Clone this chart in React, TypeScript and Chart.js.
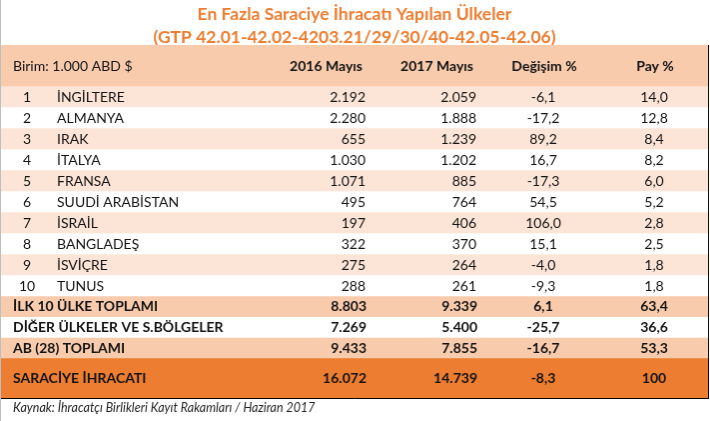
import React, { useEffect, useRef } from "react";
import { Chart, registerables } from "chart.js";

Chart.register(...registerables);

// ---------- data ----------
const titleLines = [
  "En Fazla Saraciye İhracatı Yapılan Ülkeler",
  "(GTP 42.01-42.02-4203.21/29/30/40-42.05-42.06)",
];
const unitLabel = "Birim: 1.000 ABD $";
const columnHeaders = ["2016 Mayıs", "2017 Mayıs", "Değişim %", "Pay %"];
const ranks = ["1", "2", "3", "4", "5", "6", "7", "8", "9", "10"];
const countries = [
  "İNGİLTERE",
  "ALMANYA",
  "IRAK",
  "İTALYA",
  "FRANSA",
  "SUUDİ ARABİSTAN",
  "İSRAİL",
  "BANGLADEŞ",
  "İSVİÇRE",
  "TUNUS",
];
const may2016 = [2192, 2280, 655, 1030, 1071, 495, 197, 322, 275, 288];
const may2017 = [2059, 1888, 1239, 1202, 885, 764, 406, 370, 264, 261];
const changePct = [-6.1, -17.2, 89.2, 16.7, -17.3, 54.5, 106.0, 15.1, -4.0, -9.3];
const sharePct = [14.0, 12.8, 8.4, 8.2, 6.0, 5.2, 2.8, 2.5, 1.8, 1.8];
const summaryLabels = [
  "İLK 10 ÜLKE TOPLAMI",
  "DİĞER ÜLKELER VE S.BÖLGELER",
  "AB (28) TOPLAMI",
  "SARACİYE İHRACATI",
];
const summary2016 = [8803, 7269, 9433, 16072];
const summary2017 = [9339, 5400, 7855, 14739];
const summaryChange = [6.1, -25.7, -16.7, -8.3];
const summaryShare = [63.4, 36.6, 53.3, 100];
const sourceNote = "Kaynak: İhracatçı Birlikleri Kayıt Rakamları / Haziran 2017";

// ---------- layout / style ----------
const ORANGE = "#ED7D31";
const PEACH = "#F8CBAD";
const LIGHT = "#FCE4D6";
const WHITE = "#FFFFFF";
const FONT = "Lato";

// row bands: header, 10 data rows, 3 summary rows, grand total
const bandHeights = [
  41,
  ...countries.map(() => 21),
  20.67, 20.67, 20.66,
  40,
];
const bandColors = [
  PEACH,
  ...countries.map((_, i) => (i % 2 === 0 ? LIGHT : WHITE)),
  PEACH, WHITE, PEACH,
  ORANGE,
];
const totalHeight = bandHeights.reduce((a, b) => a + b, 0);

// column anchors (in the hidden "cx" axis units)
const COL = {
  label: 12,
  rank: 26,
  country: 56,
  v2016: 365,
  v2017: 476,
  change: 543,
  share: 654,
  h2016: 362,
  h2017: 473,
  hChange: 544,
  hShare: 655,
};

const fmtInt = (n: number) => String(n).replace(/\B(?=(\d{3})+(?!\d))/g, ".");
const fmtDec = (n: number) => (n === 100 ? "100" : n.toFixed(1).replace(".", ","));

const tablePlugin = {
  id: "tableText",
  afterDatasetsDraw(chart: any) {
    const { ctx, chartArea } = chart;
    const ys = chart.scales.y;
    const cx = chart.scales.cx;
    const X = (v: number) => cx.getPixelForValue(v);
    let acc = 0;
    const centers = bandHeights.map((h) => {
      const c = ys.getPixelForValue(acc + h / 2);
      acc += h;
      return c;
    });
    const text = (s: string, x: number, y: number, align: CanvasTextAlign, bold: boolean) => {
      ctx.font = `${bold ? "bold " : ""}14px ${FONT}`;
      ctx.textAlign = align;
      ctx.fillText(s, X(x), y + 0.5);
    };
    ctx.save();
    ctx.textBaseline = "middle";
    ctx.fillStyle = "#141414";

    // header
    const hy = centers[0];
    text(unitLabel, COL.label, hy, "left", false);
    text(columnHeaders[0], COL.h2016, hy, "right", true);
    text(columnHeaders[1], COL.h2017, hy, "right", true);
    text(columnHeaders[2], COL.hChange, hy, "center", true);
    text(columnHeaders[3], COL.hShare, hy, "center", true);

    // data rows
    countries.forEach((c, i) => {
      const y = centers[1 + i];
      text(ranks[i], COL.rank, y, "center", false);
      text(c, COL.country, y, "left", false);
      text(fmtInt(may2016[i]), COL.v2016, y, "right", false);
      text(fmtInt(may2017[i]), COL.v2017, y, "right", false);
      text(fmtDec(changePct[i]), COL.change, y, "center", false);
      text(fmtDec(sharePct[i]), COL.share, y, "center", false);
    });

    // summary rows
    summaryLabels.forEach((l, i) => {
      const y = centers[1 + countries.length + i];
      text(l, COL.label, y, "left", true);
      text(fmtInt(summary2016[i]), COL.v2016 + 1, y, "right", true);
      text(fmtInt(summary2017[i]), COL.v2017 + 1, y, "right", true);
      text(fmtDec(summaryChange[i]), COL.change, y, "center", true);
      text(fmtDec(summaryShare[i]), COL.share, y, "center", true);
    });

    // source note
    ctx.font = `italic 12.5px ${FONT}`;
    ctx.fillStyle = "#262626";
    ctx.textAlign = "left";
    ctx.fillText(sourceNote, X(COL.label), chartArea.bottom + 10);
    ctx.restore();
  },
};

export default function App() {
  const ref = useRef<HTMLCanvasElement>(null);
  useEffect(() => {
    document.body.style.margin = "0";
    const chart = new Chart(ref.current as HTMLCanvasElement, {
      type: "bar",
      data: {
        labels: ["table"],
        datasets: bandHeights.map((h, i) => ({
          label: `band${i}`,
          data: [h],
          backgroundColor: bandColors[i],
          borderWidth: 0,
          barPercentage: 1,
          categoryPercentage: 1,
          stack: "t",
        })),
      },
      options: {
        responsive: false,
        animation: false,
        events: [],
        layout: { padding: { top: 0, right: 1, bottom: 23, left: 0 } },
        plugins: {
          legend: { display: false },
          tooltip: { enabled: false },
          title: {
            display: true,
            text: titleLines,
            color: ORANGE,
            font: { family: FONT, size: 17.5, weight: "bold", lineHeight: 23 / 17.5 },
            padding: { top: 2.5, bottom: -3.5 },
          },
        },
        scales: {
          x: {
            type: "category",
            stacked: true,
            offset: true,
            grid: { display: false, drawTicks: false },
            ticks: { display: false },
            border: { display: true, color: "#000000", width: 1, z: 1 },
          },
          cx: {
            type: "linear",
            axis: "x",
            display: false,
            offset: false,
            grid: { offset: false },
            bounds: "data",
            min: 0,
            max: 708,
          },
          y: {
            type: "linear",
            position: "right",
            stacked: true,
            reverse: true,
            min: 0,
            max: totalHeight,
            grid: { display: false, drawTicks: false },
            ticks: { display: false },
            border: { display: true, color: "#000000", width: 1, z: 1 },
          },
        },
      } as any,
      plugins: [tablePlugin],
    });
    return () => chart.destroy();
  }, []);
  return (
    <div style={{ width: 710, height: 421, background: "#fff" }}>
      <canvas
        ref={ref}
        width={709}
        height={421}
        style={{ display: "block", width: 709, height: 421, borderLeft: "1px solid #BFBFBF" }}
      />
    </div>
  );
}
